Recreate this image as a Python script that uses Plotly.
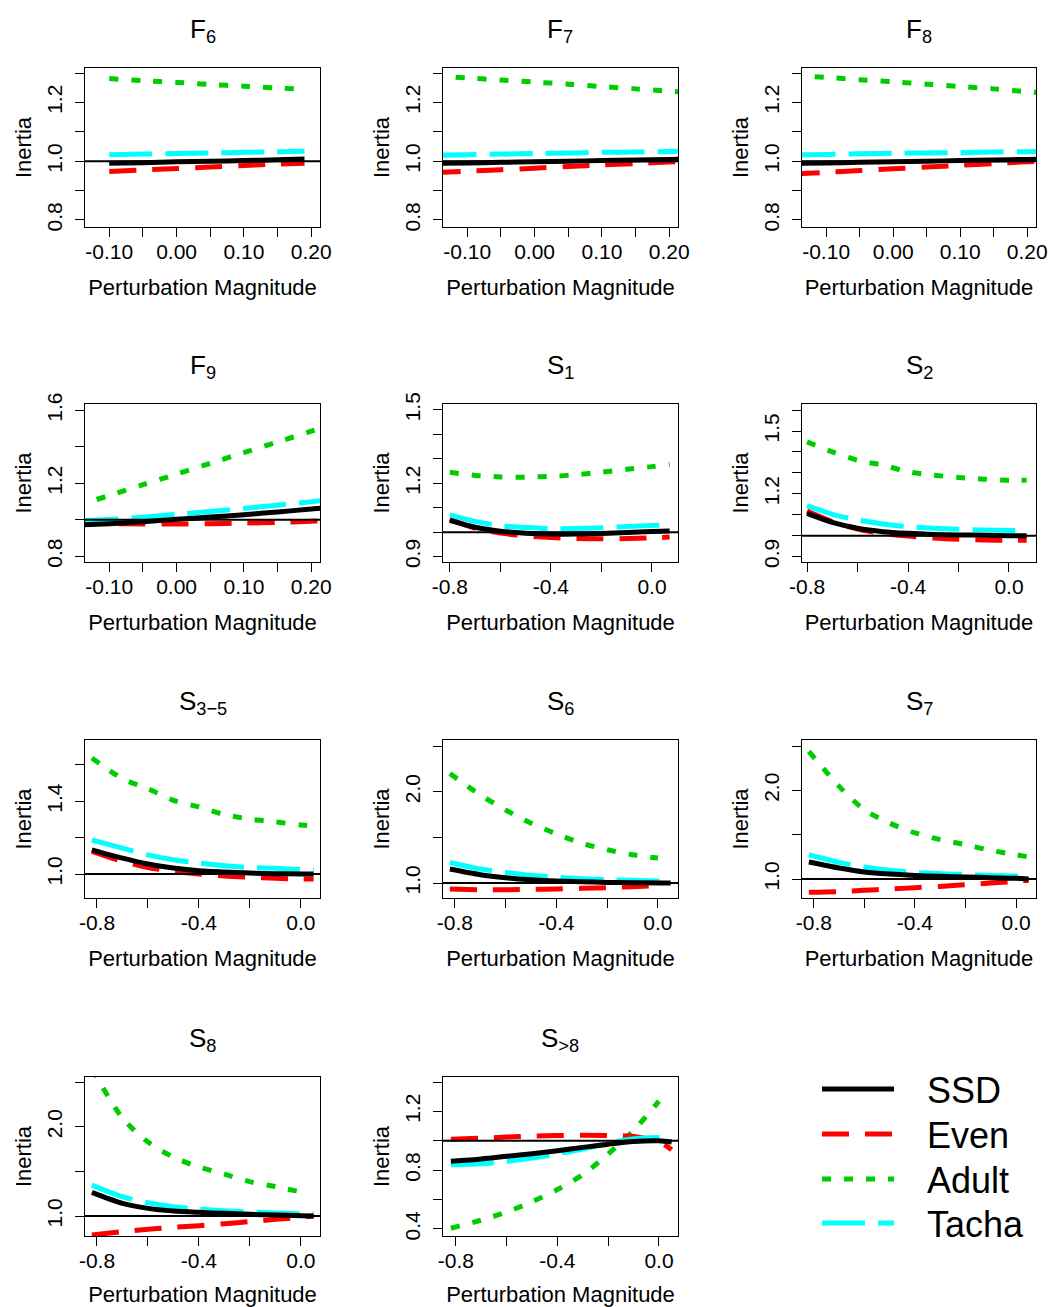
import plotly.graph_objects as go

# ---------------- data ----------------
REF_LEVEL = 1.0
SERIES = ["SSD", "Even", "Adult", "Tacha"]
TITLES = ["F<sub>6</sub>", "F<sub>7</sub>", "F<sub>8</sub>", "F<sub>9</sub>",
          "S<sub>1</sub>", "S<sub>2</sub>", "S<sub>3\u22125</sub>", "S<sub>6</sub>",
          "S<sub>7</sub>", "S<sub>8</sub>", "S<sub>&gt;8</sub>"]
X_LABEL = "Perturbation Magnitude"
Y_LABEL = "Inertia"

X_F6 = [-0.10, -0.05, 0.0, 0.05, 0.10, 0.15, 0.19]
X_F = [-0.15, -0.10, -0.05, 0.0, 0.05, 0.10, 0.15, 0.20, 0.22]
X_S12 = [-0.8, -0.7, -0.6, -0.5, -0.4, -0.3, -0.2, -0.1, 0.0, 0.07]
X_S = [-0.82, -0.7, -0.6, -0.5, -0.4, -0.3, -0.2, -0.1, 0.0, 0.05]

# F6
SSD_F6 = [0.993, 0.995, 0.998, 1.000, 1.002, 1.005, 1.007]
EVEN_F6 = [0.965, 0.970, 0.975, 0.980, 0.985, 0.990, 0.993]
ADULT_F6 = [1.281, 1.274, 1.268, 1.261, 1.255, 1.249, 1.244]
TACHA_F6 = [1.022, 1.024, 1.026, 1.028, 1.030, 1.032, 1.034]
# F7
SSD_F7 = [0.992, 0.994, 0.996, 0.998, 1.000, 1.002, 1.004, 1.006, 1.007]
EVEN_F7 = [0.961, 0.966, 0.971, 0.976, 0.982, 0.987, 0.992, 0.997, 0.999]
ADULT_F7 = [1.290, 1.283, 1.276, 1.269, 1.262, 1.254, 1.246, 1.238, 1.235]
TACHA_F7 = [1.020, 1.022, 1.024, 1.026, 1.028, 1.030, 1.031, 1.033, 1.034]
# F8
SSD_F8 = [0.992, 0.994, 0.996, 0.998, 1.000, 1.002, 1.004, 1.006, 1.007]
EVEN_F8 = [0.956, 0.962, 0.968, 0.974, 0.980, 0.986, 0.992, 0.998, 1.000]
ADULT_F8 = [1.292, 1.285, 1.277, 1.270, 1.262, 1.254, 1.246, 1.236, 1.233]
TACHA_F8 = [1.021, 1.023, 1.025, 1.027, 1.028, 1.029, 1.031, 1.032, 1.033]
# F9
SSD_F9 = [0.971, 0.979, 0.990, 1.003, 1.015, 1.028, 1.043, 1.059, 1.066]
EVEN_F9 = [0.985, 0.980, 0.977, 0.977, 0.979, 0.982, 0.986, 0.992, 0.995]
ADULT_F9 = [1.075, 1.133, 1.192, 1.250, 1.309, 1.368, 1.426, 1.485, 1.508]
TACHA_F9 = [0.993, 1.002, 1.014, 1.030, 1.045, 1.062, 1.080, 1.099, 1.107]
# S1
SSD_S1 = [1.048, 1.020, 1.004, 0.996, 0.992, 0.992, 0.995, 0.999, 1.003, 1.005]
EVEN_S1 = [1.053, 1.016, 0.996, 0.985, 0.978, 0.974, 0.973, 0.974, 0.977, 0.980]
ADULT_S1 = [1.245, 1.232, 1.226, 1.225, 1.228, 1.235, 1.245, 1.257, 1.268, 1.277]
TACHA_S1 = [1.071, 1.044, 1.026, 1.019, 1.014, 1.015, 1.018, 1.023, 1.027, 1.031]
# S2
SSD_S2 = [1.106, 1.063, 1.035, 1.019, 1.011, 1.006, 1.003, 1.002, 1.000, 1.000]
EVEN_S2 = [1.117, 1.067, 1.032, 1.011, 0.998, 0.989, 0.983, 0.979, 0.978, 0.978]
ADULT_S2 = [1.448, 1.400, 1.360, 1.337, 1.305, 1.289, 1.278, 1.270, 1.265, 1.265]
TACHA_S2 = [1.143, 1.102, 1.075, 1.056, 1.043, 1.035, 1.030, 1.027, 1.025, 1.024]
# S3-5
SSD_S35 = [1.133, 1.087, 1.055, 1.033, 1.018, 1.011, 1.005, 1.002, 1.000, 1.000]
EVEN_S35 = [1.124, 1.069, 1.036, 1.015, 1.000, 0.989, 0.982, 0.976, 0.973, 0.973]
ADULT_S35 = [1.638, 1.524, 1.469, 1.405, 1.369, 1.327, 1.302, 1.287, 1.269, 1.264]
TACHA_S35 = [1.187, 1.142, 1.105, 1.078, 1.060, 1.045, 1.036, 1.031, 1.025, 1.024]
# S6
SSD_S6 = [1.153, 1.091, 1.058, 1.036, 1.022, 1.015, 1.007, 1.004, 1.000, 1.000]
EVEN_S6 = [0.935, 0.927, 0.927, 0.931, 0.935, 0.942, 0.949, 0.960, 0.971, None]
ADULT_S6 = [2.200, 1.964, 1.800, 1.655, 1.538, 1.436, 1.364, 1.309, 1.273, None]
TACHA_S6 = [1.225, 1.153, 1.116, 1.084, 1.062, 1.047, 1.036, 1.029, 1.022, 1.018]
# S7
SSD_S7 = [1.192, 1.124, 1.079, 1.056, 1.041, 1.030, 1.023, 1.015, 1.008, 1.000]
EVEN_S7 = [0.850, 0.857, 0.872, 0.887, 0.902, 0.917, 0.936, 0.955, 0.974, 0.985]
ADULT_S7 = [2.440, 2.045, 1.780, 1.630, 1.520, 1.444, 1.387, 1.323, 1.274, 1.248]
TACHA_S7 = [1.274, 1.188, 1.135, 1.098, 1.075, 1.060, 1.049, 1.041, 1.034, 1.030]
# S8
SSD_S8 = [1.265, 1.142, 1.086, 1.056, 1.041, 1.030, 1.019, 1.011, 1.004, 1.000]
EVEN_S8 = [0.787, 0.825, 0.851, 0.873, 0.892, 0.914, 0.937, 0.963, 0.985, 1.000]
ADULT_S8 = [2.650, 2.100, 1.830, 1.660, 1.550, 1.470, 1.385, 1.330, 1.270, None]
TACHA_S8 = [1.347, 1.216, 1.149, 1.104, 1.078, 1.060, 1.045, 1.034, 1.026, 1.022]
# S>8
SSD_SG8 = [0.860, 0.876, 0.894, 0.912, 0.932, 0.955, 0.977, 0.995, 1.000, 0.991]
EVEN_SG8 = [1.011, 1.018, 1.025, 1.032, 1.036, 1.038, 1.036, 1.029, 0.995, 0.939]
ADULT_SG8 = [0.405, 0.460, 0.515, 0.585, 0.668, 0.770, 0.910, 1.070, 1.270, None]
TACHA_SG8 = [0.837, 0.844, 0.860, 0.882, 0.912, 0.944, 0.984, 1.014, 1.023, 1.023]

# labelled ticks and all tick positions
F_XLAB = [-0.10, 0.0, 0.10, 0.20]
F_XLABT = ["-0.10", "0.00", "0.10", "0.20"]
F_XALL = [-0.10, -0.05, 0.0, 0.05, 0.10, 0.15, 0.20]
S_XLAB = [-0.8, -0.4, 0.0]
S_XLABT = ["-0.8", "-0.4", "0.0"]
S_XALL = [-0.8, -0.6, -0.4, -0.2, 0.0]
F_YLAB, F_YLABT, F_YALL = [0.8, 1.0, 1.2], ["0.8", "1.0", "1.2"], [0.8, 0.9, 1.0, 1.1, 1.2, 1.3]
F9_YLAB, F9_YLABT, F9_YALL = [0.8, 1.2, 1.6], ["0.8", "1.2", "1.6"], [0.8, 1.0, 1.2, 1.4, 1.6]
S1_YLAB, S1_YLABT, S1_YALL = [0.9, 1.2, 1.5], ["0.9", "1.2", "1.5"], [0.9, 1.0, 1.1, 1.2, 1.3, 1.4, 1.5]
S2_YLAB, S2_YLABT, S2_YALL = [0.9, 1.2, 1.5], ["0.9", "1.2", "1.5"], [0.9, 1.0, 1.1, 1.2, 1.3, 1.4, 1.5, 1.6]
S35_YLAB, S35_YLABT, S35_YALL = [1.0, 1.4], ["1.0", "1.4"], [1.0, 1.2, 1.4, 1.6]
SB_YLAB, SB_YLABT, SB_YALL = [1.0, 2.0], ["1.0", "2.0"], [1.0, 1.5, 2.0, 2.5]
SG8_YLAB, SG8_YLABT, SG8_YALL = [0.4, 0.8, 1.2], ["0.4", "0.8", "1.2"], [0.4, 0.6, 0.8, 1.0, 1.2, 1.4]

PANEL_X = [X_F6, X_F, X_F, X_F, X_S12, X_S12, X_S, X_S, X_S, X_S, X_S]
PANEL_SSD = [SSD_F6, SSD_F7, SSD_F8, SSD_F9, SSD_S1, SSD_S2, SSD_S35, SSD_S6, SSD_S7, SSD_S8, SSD_SG8]
PANEL_EVEN = [EVEN_F6, EVEN_F7, EVEN_F8, EVEN_F9, EVEN_S1, EVEN_S2, EVEN_S35, EVEN_S6, EVEN_S7, EVEN_S8, EVEN_SG8]
PANEL_ADULT = [ADULT_F6, ADULT_F7, ADULT_F8, ADULT_F9, ADULT_S1, ADULT_S2, ADULT_S35, ADULT_S6, ADULT_S7, ADULT_S8, ADULT_SG8]
PANEL_TACHA = [TACHA_F6, TACHA_F7, TACHA_F8, TACHA_F9, TACHA_S1, TACHA_S2, TACHA_S35, TACHA_S6, TACHA_S7, TACHA_S8, TACHA_SG8]
PANEL_XT = [(F_XLAB, F_XLABT, F_XALL)] * 4 + [(S_XLAB, S_XLABT, S_XALL)] * 7
PANEL_YT = [(F_YLAB, F_YLABT, F_YALL)] * 3 + [(F9_YLAB, F9_YLABT, F9_YALL), (S1_YLAB, S1_YLABT, S1_YALL),
            (S2_YLAB, S2_YLABT, S2_YALL), (S35_YLAB, S35_YLABT, S35_YALL)] + \
           [(SB_YLAB, SB_YLABT, SB_YALL)] * 3 + [(SG8_YLAB, SG8_YLABT, SG8_YALL)]

# ---------------- layout / style ----------------
W, H = 1051, 1307
COL_X = [(85, 320), (443, 678), (802, 1036)]
ROW_Y = [(68, 227), (404, 562), (740, 898), (1077, 1236)]
X_RANGES = [[-0.136, 0.213]] * 4 + [[-0.827, 0.103], [-0.82, 0.107], [-0.847, 0.075],
            [-0.847, 0.079], [-0.847, 0.079], [-0.847, 0.075], [-0.851, 0.075]]
Y_RANGES = [[0.776, 1.317]] * 3 + [[0.769, 1.634], [0.878, 1.524], [0.874, 1.629], [0.868, 1.737],
            [0.836, 2.566], [0.786, 2.568], [0.776, 2.559], [0.352, 1.434]]

FONT = "Liberation Sans, Arial, Helvetica, sans-serif"
STYLE = {
    "SSD": dict(color="black", dash="solid"),
    "Even": dict(color="#ff0000", dash="27px,16px"),
    "Adult": dict(color="#00cd00", dash="9px,13px"),
    "Tacha": dict(color="#00ffff", dash="43px,13px"),
}
LW = 5
DRAW_ORDER = ["Adult", "Even", "Tacha", "SSD"]
LEGEND_ID = {"SSD": "legend", "Even": "legend2", "Adult": "legend3", "Tacha": "legend4"}
LEGEND_Y = {"SSD": 1089, "Even": 1134, "Adult": 1179, "Tacha": 1223}
LABEL_PAD = "\u2002\u00a0"
X_TITLE_STANDOFF = 17
Y_TITLE_STANDOFF = 5

fig = go.Figure()

for i in range(11):
    r, c = divmod(i, 3)
    x0, x1 = COL_X[c]
    y0, y1 = ROW_Y[r]
    n = i + 1
    xa = "xaxis" if n == 1 else f"xaxis{n}"
    ya = "yaxis" if n == 1 else f"yaxis{n}"
    xref = "x" if n == 1 else f"x{n}"
    yref = "y" if n == 1 else f"y{n}"
    common = dict(showline=True, mirror=True, linecolor="black", linewidth=1.3,
                  ticks="outside", ticklen=9, tickwidth=1.3, tickcolor="black",
                  showgrid=False, zeroline=False, automargin=False,
                  tickfont=dict(family=FONT, size=21, color="black"))
    xt, xl, xall = PANEL_XT[i]
    yt, yl, yall = PANEL_YT[i]
    fig.layout[xa] = dict(domain=[x0 / W, x1 / W], anchor=yref, range=X_RANGES[i],
                          tickmode="array", tickvals=xt, ticktext=xl, ticklabelstandoff=-3,
                          minor=dict(tickmode="array", tickvals=xall, ticks="outside", ticklen=9,
                                     tickwidth=1.3, tickcolor="black", showgrid=False),
                          title=dict(text=X_LABEL, standoff=X_TITLE_STANDOFF,
                                     font=dict(family=FONT, size=22, color="black")),
                          **common)
    fig.layout[ya] = dict(domain=[1 - y1 / H, 1 - y0 / H], anchor=xref, range=Y_RANGES[i],
                          tickmode="array", tickvals=yt, ticktext=yl, tickangle=-90,
                          ticklabelstandoff=4,
                          minor=dict(tickmode="array", tickvals=yall, ticks="outside", ticklen=9,
                                     tickwidth=1.3, tickcolor="black", showgrid=False),
                          title=dict(text=Y_LABEL, standoff=Y_TITLE_STANDOFF,
                                     font=dict(family=FONT, size=22, color="black")),
                          **common)
    vals = {"SSD": PANEL_SSD[i], "Even": PANEL_EVEN[i], "Adult": PANEL_ADULT[i], "Tacha": PANEL_TACHA[i]}
    for s in DRAW_ORDER:
        st = STYLE[s]
        fig.add_trace(go.Scatter(
            x=PANEL_X[i], y=vals[s], mode="lines", name=LABEL_PAD + s, legendgroup=s,
            showlegend=(i == 0), legend=LEGEND_ID[s],
            line=dict(color=st["color"], dash=st["dash"], width=LW, shape="spline", smoothing=0.8),
            xaxis=xref, yaxis=yref, hoverinfo="skip"))
    fig.add_shape(type="line", xref=f"{xref} domain", yref=yref, x0=0, x1=1,
                  y0=REF_LEVEL, y1=REF_LEVEL, line=dict(color="black", width=2))
    cx = (x0 + x1) / 2 / W
    fig.add_annotation(text=TITLES[i], x=cx, y=1 - (y0 - 38) / H, xref="paper", yref="paper",
                       showarrow=False, font=dict(family=FONT, size=26, color="black"),
                       xanchor="center", yanchor="middle")

legend_common = dict(font=dict(family=FONT, size=36, color="black"), itemwidth=72,
                     bgcolor="rgba(0,0,0,0)", borderwidth=0, xanchor="left", yanchor="middle",
                     x=817 / W)
layout_legends = {LEGEND_ID[s]: dict(y=1 - LEGEND_Y[s] / H, **legend_common) for s in SERIES}

fig.update_layout(
    width=W, height=H, margin=dict(l=0, r=0, t=0, b=0, autoexpand=False),
    paper_bgcolor="white", plot_bgcolor="white",
    font=dict(family=FONT, color="black"),
    **layout_legends,
)

fig.write_html("out.html")
